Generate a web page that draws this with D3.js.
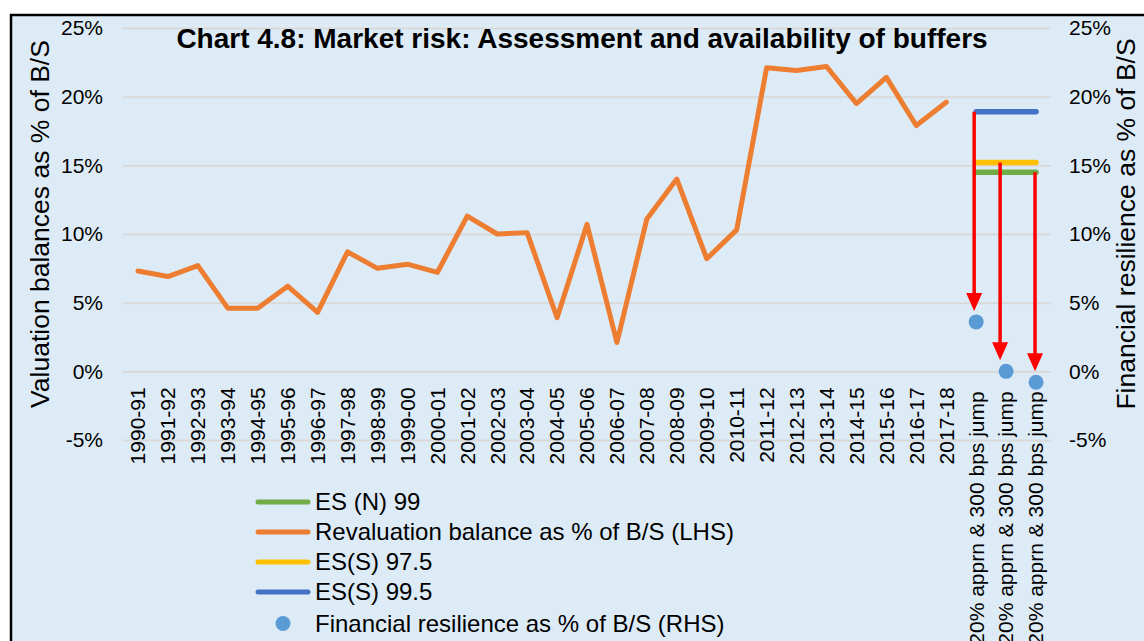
<!DOCTYPE html>
<html>
<head>
<meta charset="utf-8">
<script src="https://cdn.jsdelivr.net/npm/d3@7"></script>
<style>
  body { margin: 0; background: #fff; }
  svg { display: block; font-family: "Liberation Sans", Arial, sans-serif; }
</style>
</head>
<body>
<svg id="chart" width="1144" height="641"></svg>
<script>
// categories
const years = ["1990-91","1991-92","1992-93","1993-94","1994-95","1995-96","1996-97","1997-98",
  "1998-99","1999-00","2000-01","2001-02","2002-03","2003-04","2004-05","2005-06","2006-07",
  "2007-08","2008-09","2009-10","2010-11","2011-12","2012-13","2013-14","2014-15","2015-16",
  "2016-17","2017-18"];
const scenarios = ["20% apprn & 300 bps jump","20% apprn & 300 bps jump","20% apprn & 300 bps jump"];

// revaluation balance as % of B/S (LHS), one per year
const revaluation = [7.3, 6.9, 7.7, 4.6, 4.6, 6.2, 4.3, 8.7, 7.5, 7.8, 7.2, 11.3, 10.0, 10.1,
  3.9, 10.7, 2.1, 11.1, 14.0, 8.2, 10.3, 22.1, 21.9, 22.2, 19.5, 21.4, 17.9, 19.6];

// buffers over the three scenario categories
const esN99 = [14.5, 14.5, 14.5];
const esS975 = [15.2, 15.2, 15.2];
const esS995 = [18.9, 18.9, 18.9];

// financial resilience as % of B/S (RHS), one per scenario
const resilience = [3.6, 0.0, -0.8];

const yTicks = [-5, 0, 5, 10, 15, 20, 25];

const svg = d3.select("#chart");
const W = 1144, H = 641;
const plotL = 123, plotR = 1051, plotT = 28, plotB = 440;

// frame
svg.append("rect")
  .attr("x", 11).attr("y", 15)
  .attr("width", W + 20).attr("height", H + 20)
  .attr("fill", "#DDEBF7")
  .attr("stroke", "#000")
  .attr("stroke-width", 2.5);

// one slot per category; scenarios get their own slot (index by position)
const cats = years.map((d, i) => "y" + i).concat(scenarios.map((d, i) => "s" + i));
const catLabel = years.concat(scenarios);

const x = d3.scaleBand().domain(cats).range([plotL, plotR]);
const cx = k => x(k) + x.bandwidth() / 2;
const y = d3.scaleLinear().domain([-5, 25]).range([plotB, plotT]);

// gridlines + left labels
const gl = svg.append("g")
  .attr("transform", `translate(${plotL},0)`)
  .call(d3.axisLeft(y).tickValues(yTicks).tickFormat(d => d + "%")
    .tickSize(-(plotR - plotL)).tickPadding(20));
gl.select(".domain").remove();
gl.selectAll(".tick line").attr("stroke", "#D9D9D9").attr("stroke-width", 2);
gl.selectAll(".tick text").attr("fill", "#000").style("font-size", "21px")
  .style("font-family", "'Liberation Sans', Arial, sans-serif");

// right labels
const gr = svg.append("g")
  .attr("transform", `translate(${plotR},0)`)
  .call(d3.axisRight(y).tickValues(yTicks).tickFormat(d => d + "%")
    .tickSize(0).tickPadding(18));
gr.select(".domain").remove();
gr.selectAll(".tick text").attr("fill", "#000").style("font-size", "21px")
  .style("font-family", "'Liberation Sans', Arial, sans-serif");

// category labels, rotated
const gx = svg.append("g")
  .attr("transform", `translate(0,${y(0)})`)
  .call(d3.axisBottom(x).tickFormat((d, i) => catLabel[i]).tickSize(0));
gx.select(".domain").remove();
gx.selectAll(".tick text")
  .attr("transform", "rotate(-90)")
  .attr("x", (d, i) => i < years.length ? -16 : -20).attr("y", 0).attr("dy", "0.35em")
  .style("text-anchor", "end")
  .attr("fill", "#000")
  .style("font-size", "21px")
  .style("font-family", "'Liberation Sans', Arial, sans-serif");

// revaluation line
const line = d3.line().x(d => cx(d.k)).y(d => y(d.v));
svg.append("path")
  .datum(revaluation.map((v, i) => ({k: "y" + i, v})))
  .attr("d", line)
  .attr("fill", "none")
  .attr("stroke", "#ED7D31")
  .attr("stroke-width", 5)
  .attr("stroke-linejoin", "round")
  .attr("stroke-linecap", "round");

// buffer lines
const buffers = [
  {name: "ES (N) 99", vals: esN99, color: "#70AD47"},
  {name: "ES(S) 97.5", vals: esS975, color: "#FFC000"},
  {name: "ES(S) 99.5", vals: esS995, color: "#4472C4"}
];
buffers.forEach(b => {
  svg.append("path")
    .datum(b.vals.map((v, i) => ({k: "s" + i, v})))
    .attr("d", line)
    .attr("fill", "none")
    .attr("stroke", b.color)
    .attr("stroke-width", 5.5)
    .attr("stroke-linecap", "round");
});

// red arrows from each buffer down to the resilience points
const arrows = [
  {from: esS995[0], to: 0, nudge: -2},
  {from: esS975[1], to: 1, nudge: -6},
  {from: esN99[2], to: 2, nudge: -1}
];
const headW = 16, headH = 18;
arrows.forEach(a => {
  const ax = cx("s" + a.to) + a.nudge;
  const y0 = y(a.from);
  const tip = y(resilience[a.to]) - 11;
  svg.append("line")
    .attr("x1", ax).attr("x2", ax)
    .attr("y1", y0).attr("y2", tip - headH + 2)
    .attr("stroke", "#FF0000").attr("stroke-width", 3.5);
  svg.append("path")
    .attr("d", `M${ax - headW / 2},${tip - headH} L${ax + headW / 2},${tip - headH} L${ax},${tip} Z`)
    .attr("fill", "#FF0000");
});

// resilience points
svg.selectAll(".pt")
  .data(resilience)
  .join("circle")
  .attr("class", "pt")
  .attr("cx", (d, i) => cx("s" + i))
  .attr("cy", d => y(d))
  .attr("r", 7.5)
  .attr("fill", "#5B9BD5");

// title
svg.append("text")
  .attr("x", 582).attr("y", 48)
  .attr("text-anchor", "middle")
  .style("font-size", "28px").style("font-weight", "bold")
  .text("Chart 4.8: Market risk: Assessment and availability of buffers");

// axis titles
svg.append("text")
  .attr("transform", "translate(40,224) rotate(-90)")
  .attr("text-anchor", "middle").attr("dy", "0.35em")
  .style("font-size", "26.5px")
  .text("Valuation balances as % of B/S");
svg.append("text")
  .attr("transform", "translate(1126,224) rotate(-90)")
  .attr("text-anchor", "middle").attr("dy", "0.35em")
  .style("font-size", "26.5px")
  .text("Financial resilience as % of B/S");

// legend
const legendItems = [
  {name: "ES (N) 99", color: "#70AD47", type: "line"},
  {name: "Revaluation balance as % of B/S (LHS)", color: "#ED7D31", type: "line"},
  {name: "ES(S) 97.5", color: "#FFC000", type: "line"},
  {name: "ES(S) 99.5", color: "#4472C4", type: "line"},
  {name: "Financial resilience as % of B/S (RHS)", color: "#5B9BD5", type: "dot"}
];
const lg = svg.append("g").attr("transform", "translate(256,502)");
const rows = lg.selectAll("g").data(legendItems).join("g")
  .attr("transform", (d, i) => `translate(0,${i * 30 + (i === 4 ? 1.5 : 0)})`);
rows.filter(d => d.type === "line").append("line")
  .attr("x1", 2).attr("x2", 52).attr("y1", 0).attr("y2", 0)
  .attr("stroke", d => d.color).attr("stroke-width", 5).attr("stroke-linecap", "round");
rows.filter(d => d.type === "dot").append("circle")
  .attr("cx", 27).attr("cy", 0).attr("r", 7.5).attr("fill", d => d.color);
rows.append("text")
  .attr("x", 59).attr("y", 0).attr("dy", "0.35em")
  .style("font-size", "24px")
  .text(d => d.name);
</script>
</body>
</html>
